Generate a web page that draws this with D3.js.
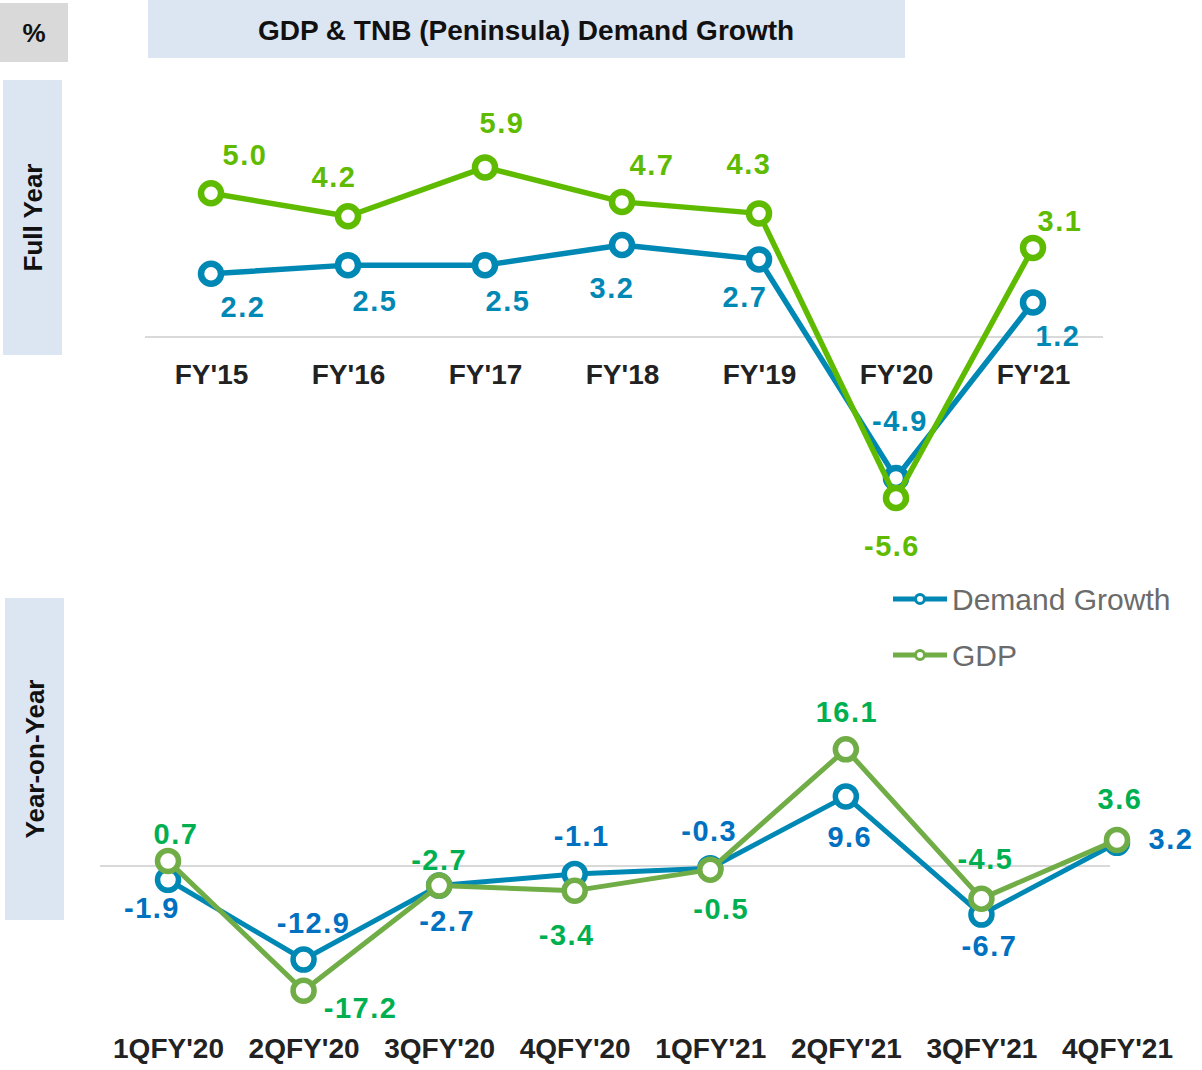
<!DOCTYPE html>
<html>
<head>
<meta charset="utf-8">
<script src="https://cdn.jsdelivr.net/npm/d3@7/dist/d3.min.js"></script>
<style>
  body { margin: 0; background: #ffffff; }
  svg { display: block; font-family: "Liberation Sans", Arial, sans-serif; }
</style>
</head>
<body>
<div id="chart"></div>
<script>
// full year data
var fyLabels = ["FY'15", "FY'16", "FY'17", "FY'18", "FY'19", "FY'20", "FY'21"];
var fyDemand = [2.2, 2.5, 2.5, 3.2, 2.7, -4.9, 1.2];
var fyGdp = [5.0, 4.2, 5.9, 4.7, 4.3, -5.6, 3.1];

// quarterly (year-on-year) data
var qLabels = ["1QFY'20", "2QFY'20", "3QFY'20", "4QFY'20", "1QFY'21", "2QFY'21", "3QFY'21", "4QFY'21"];
var qDemand = [-1.9, -12.9, -2.7, -1.1, -0.3, 9.6, -6.7, 3.2];
var qGdp = [0.7, -17.2, -2.7, -3.4, -0.5, 16.1, -4.5, 3.6];

var seriesNames = ["Demand Growth", "GDP"];

// label nudges (layout only, px from each marker)
var fyDemandOff = [[32, 33], [27, 36], [23, 36], [-10, 43], [-14, 37], [4, -57], [25, 33]];
var fyGdpOff = [[34, -38], [-14, -39], [17, -45], [30, -37], [-10, -50], [-4, 48], [27, -27]];
var qDemandOff = [[-16, 28], [10, -37], [8, 35], [7, -38], [-1, -37], [4, 40], [8, 31], [54, -4]];
var qGdpOff = [[8, -27], [57, 17], [0, -26], [-8, 44], [11, 39], [1, -37], [4, -40], [3, -41]];

var W = 1202, H = 1070;
var svg = d3.select("#chart").append("svg")
    .attr("width", W)
    .attr("height", H);

// header boxes
svg.append("rect").attr("x", 0).attr("y", 3).attr("width", 68).attr("height", 59).attr("fill", "#d9d9d9");
svg.append("text").attr("x", 34).attr("y", 33).attr("dy", "0.35em")
    .attr("text-anchor", "middle").attr("font-size", 26).attr("font-weight", "bold")
    .attr("fill", "#111").text("%");

svg.append("rect").attr("x", 148).attr("y", 0).attr("width", 757).attr("height", 58).attr("fill", "#dce6f2");
svg.append("text").attr("x", 526).attr("y", 30).attr("dy", "0.35em")
    .attr("text-anchor", "middle").attr("font-size", 28).attr("font-weight", "bold")
    .attr("fill", "#111").text("GDP & TNB (Peninsula) Demand Growth");

function sideBox(x, y, w, h, label) {
    svg.append("rect").attr("x", x).attr("y", y).attr("width", w).attr("height", h).attr("fill", "#dce6f2");
    svg.append("text")
        .attr("transform", "translate(" + (x + w / 2) + "," + (y + h / 2) + ") rotate(-90)")
        .attr("dy", "0.35em")
        .attr("text-anchor", "middle").attr("font-size", 26).attr("font-weight", "bold")
        .attr("fill", "#111").text(label);
}
sideBox(3, 80, 59, 275, "Full Year");
sideBox(5, 598, 59, 322, "Year-on-Year");

// draws one panel: zero line, two series with hollow markers, labels, axis
function panel(opt) {
    var x = d3.scalePoint().domain(opt.labels).range(opt.xRange);
    var y = d3.scaleLinear().domain(opt.yDomain).range(opt.yRange);
    var g = svg.append("g");

    g.append("line")
        .attr("x1", opt.gridX[0]).attr("x2", opt.gridX[1])
        .attr("y1", y(0)).attr("y2", y(0))
        .attr("stroke", "#d9d9d9").attr("stroke-width", 2);

    var axis = d3.axisBottom(x).tickSize(0).tickPadding(opt.tickPad);
    var ag = g.append("g").attr("transform", "translate(0," + y(0) + ")").call(axis);
    ag.select(".domain").remove();
    ag.selectAll("text")
        .attr("font-size", 28).attr("font-weight", "bold")
        .attr("font-family", "Liberation Sans, Arial, sans-serif")
        .attr("fill", "#222");

    var line = d3.line()
        .x(function (d, i) { return x(opt.labels[i]); })
        .y(function (d) { return y(d); });

    opt.series.forEach(function (s) {
        g.append("path")
            .datum(s.values)
            .attr("d", line)
            .attr("fill", "none")
            .attr("stroke", s.color)
            .attr("stroke-width", opt.lineWidth)
            .attr("stroke-linejoin", "round");

        g.selectAll(null)
            .data(s.values)
            .enter()
            .append("circle")
            .attr("cx", function (d, i) { return x(opt.labels[i]); })
            .attr("cy", function (d) { return y(d); })
            .attr("r", opt.r)
            .attr("fill", "#ffffff")
            .attr("stroke", s.color)
            .attr("stroke-width", opt.markerWidth);
    });

    opt.series.forEach(function (s) {
        g.selectAll(null)
            .data(s.values)
            .enter()
            .append("text")
            .attr("x", function (d, i) { return x(opt.labels[i]) + s.off[i][0]; })
            .attr("y", function (d, i) { return y(d) + s.off[i][1]; })
            .attr("dy", "0.35em")
            .attr("text-anchor", "middle")
            .attr("font-size", 29)
            .attr("font-weight", "bold")
            .attr("letter-spacing", 1.5)
            .attr("fill", s.labelColor)
            .text(function (d) { return d.toFixed(1); });
    });
}

panel({
    labels: fyLabels,
    xRange: [211, 1033],
    yDomain: [-6, 6],
    yRange: [509.5, 164.5],
    gridX: [145, 1103],
    tickPad: 27,
    lineWidth: 5.5,
    r: 10,
    markerWidth: 6.5,
    series: [
        { values: fyDemand, color: "#0088b5", labelColor: "#0088b5", off: fyDemandOff },
        { values: fyGdp, color: "#5fbb00", labelColor: "#5fbb00", off: fyGdpOff }
    ]
});

panel({
    labels: qLabels,
    xRange: [168, 1117],
    yDomain: [-20, 20],
    yRange: [1011, 721],
    gridX: [100, 1110],
    tickPad: 172,
    lineWidth: 5,
    r: 10.5,
    markerWidth: 5.5,
    series: [
        { values: qDemand, color: "#0088b5", labelColor: "#0070c0", off: qDemandOff },
        { values: qGdp, color: "#70ad47", labelColor: "#00b050", off: qGdpOff }
    ]
});

// legend
var legendColors = ["#0088b5", "#70ad47"];
var lg = svg.append("g").selectAll("g")
    .data(seriesNames)
    .enter()
    .append("g")
    .attr("transform", function (d, i) { return "translate(893," + (599 + i * 56) + ")"; });
lg.append("line")
    .attr("x1", 0).attr("x2", 54)
    .attr("stroke", function (d, i) { return legendColors[i]; })
    .attr("stroke-width", 5);
lg.append("circle")
    .attr("cx", 27).attr("r", 4.5)
    .attr("fill", "#ffffff")
    .attr("stroke", function (d, i) { return legendColors[i]; })
    .attr("stroke-width", 3);
lg.append("text")
    .attr("x", 59).attr("dy", "0.35em")
    .attr("font-size", 30)
    .attr("fill", "#6b6b6b")
    .text(function (d) { return d; });
</script>
</body>
</html>
